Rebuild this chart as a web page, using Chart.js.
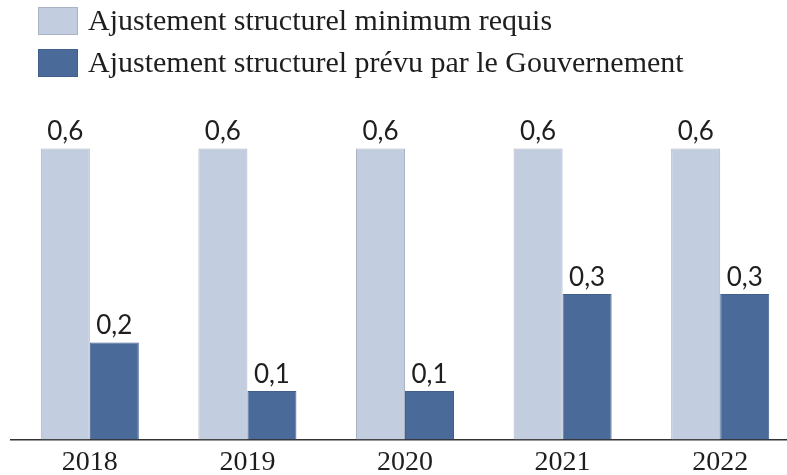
<!DOCTYPE html>
<html lang="fr">
<head>
<meta charset="UTF-8">
<title>Ajustement structurel</title>
<script src="https://cdn.jsdelivr.net/npm/chart.js"></script>
<style>
  html, body { margin: 0; padding: 0; background: #fff; overflow: hidden; }
  #wrap { position: relative; width: 799px; height: 479px; }
  #chart { position: absolute; left: 0; top: 0; }
  .legend-item { position: absolute; left: 38px; height: 28px; }
  .legend-box { position: absolute; left: 0; top: 0; width: 40px; height: 28px; box-sizing: border-box; }
  .legend-text { position: absolute; left: 50px; top: -4px; white-space: nowrap;
    font-family: "Liberation Serif", serif; font-size: 30px; color: #1e1e1e; line-height: 34px; }
</style>
</head>
<body>
<div id="wrap">
  <canvas id="chart" width="799" height="479"></canvas>
  <div id="legend"></div>
</div>
<script>
const years = ["2018", "2019", "2020", "2021", "2022"];
const minimumRequis = [0.6, 0.6, 0.6, 0.6, 0.6];
const prevuGouvernement = [0.2, 0.1, 0.1, 0.3, 0.3];
const seriesNames = ["Ajustement structurel minimum requis", "Ajustement structurel prévu par le Gouvernement"];
const lightBlue = "#c3cde0";
const darkBlue = "#4a6a9a";

// legend drawn as plain HTML, stacked vertically
const legend = document.getElementById("legend");
[[seriesNames[0], lightBlue, "#aab3c4", 7], [seriesNames[1], darkBlue, "#41608d", 49]].forEach(([name, fill, edge, top]) => {
  const item = document.createElement("div");
  item.className = "legend-item";
  item.style.top = top + "px";
  item.innerHTML = '<div class="legend-box" style="background:' + fill + ';border:1px solid ' + edge + '"></div>' +
    '<div class="legend-text">' + name + '</div>';
  legend.appendChild(item);
});

// value labels above each bar, French decimal comma
const valueLabels = {
  id: "valueLabels",
  afterDatasetsDraw(chart) {
    const ctx = chart.ctx;
    ctx.save();
    ctx.font = "26px Lato, sans-serif";
    ctx.fillStyle = "#1e1e1e";
    ctx.textAlign = "center";
    ctx.textBaseline = "alphabetic";
    chart.data.datasets.forEach((ds, i) => {
      chart.getDatasetMeta(i).data.forEach((bar, j) => {
        const txt = ds.data[j].toFixed(1).replace(".", ",");
        ctx.fillText(txt, bar.x, bar.y - 8);
      });
    });
    ctx.restore();
  }
};

new Chart(document.getElementById("chart"), {
  type: "bar",
  data: {
    labels: years,
    datasets: [
      { label: seriesNames[0], data: minimumRequis, backgroundColor: lightBlue, borderColor: "#aab3c4", borderWidth: 1 },
      { label: seriesNames[1], data: prevuGouvernement, backgroundColor: darkBlue, borderColor: "#41608d", borderWidth: 1 }
    ]
  },
  options: {
    responsive: false,
    animation: false,
    layout: { padding: { left: 11, right: 0, top: 100, bottom: 2 } },
    datasets: { bar: { categoryPercentage: 0.622, barPercentage: 1 } },
    plugins: { legend: { display: false }, tooltip: { enabled: false } },
    scales: {
      x: {
        grid: { display: false },
        border: { display: true, color: "#333", width: 1.5 },
        ticks: { color: "#1e1e1e", font: { family: "Liberation Serif", size: 28 }, padding: -2 }
      },
      y: { display: false, min: 0, max: 0.7 }
    }
  },
  plugins: [valueLabels]
});
</script>
</body>
</html>
